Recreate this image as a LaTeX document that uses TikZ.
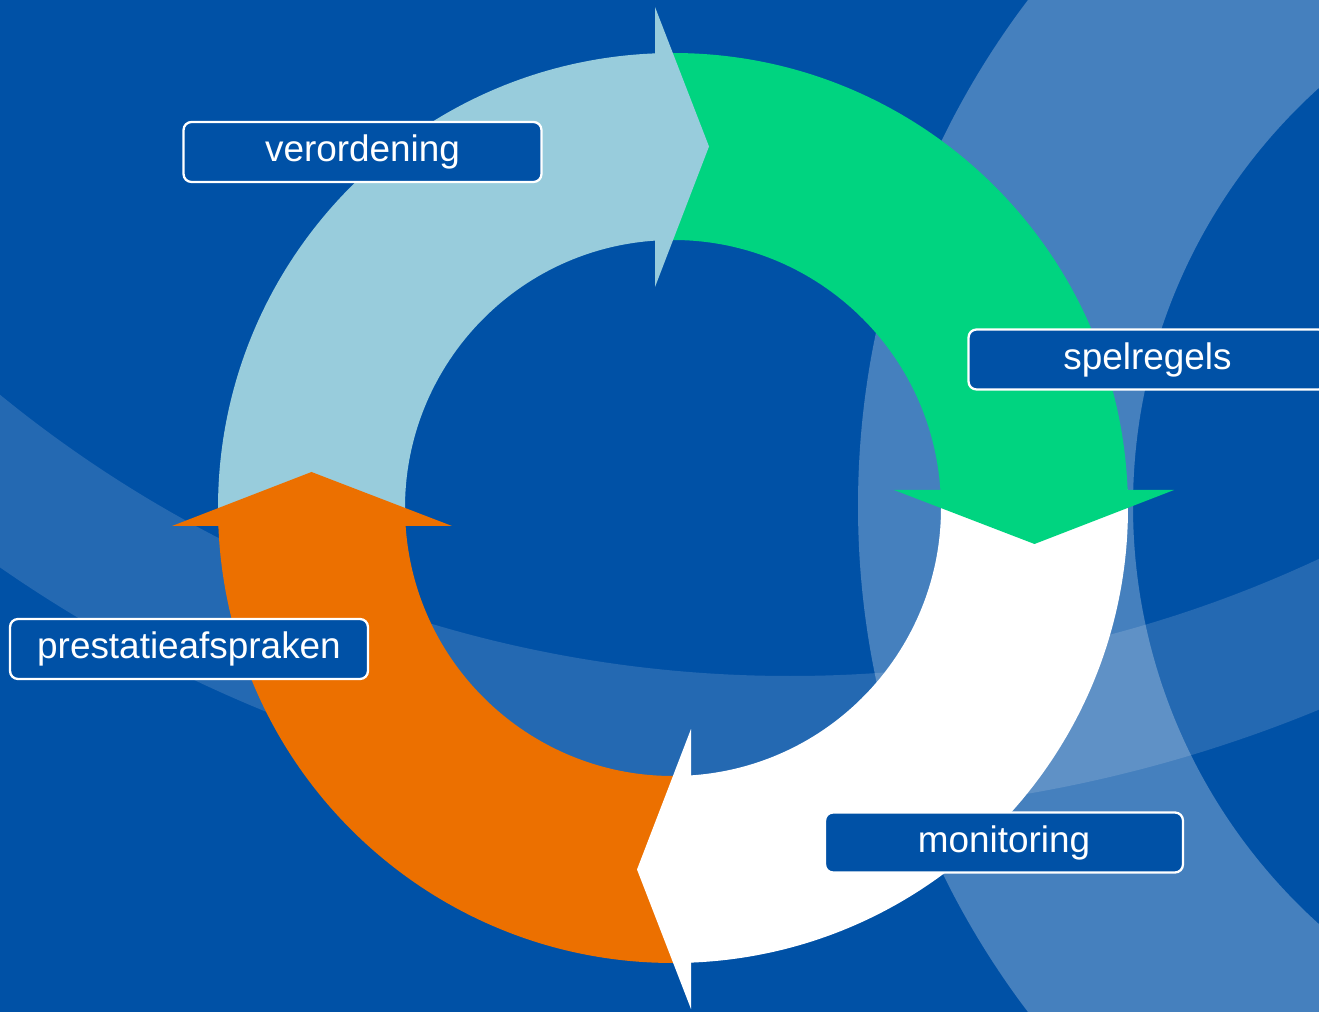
\documentclass[tikz,border=0pt]{standalone}
\usepackage{fontspec}
\setmainfont{Liberation Sans}
\definecolor{bgblue}{HTML}{0051A6}
\definecolor{paleblue}{HTML}{98CCDC}
\definecolor{mint}{HTML}{00D480}
\definecolor{tangerine}{HTML}{EC7000}
\tikzstyle{stagebox} = [rectangle, rounded corners=0.16cm, draw=white, line width=1.3pt, fill=bgblue, text=white, minimum width=7.16cm, minimum height=1.2cm, text height=15.5pt, text depth=4.4pt, font=\fontsize{21}{25}\selectfont]
\tikzstyle{swoosh} = [white, even odd rule]

\begin{document}
\begin{tikzpicture}[x=0.02cm, y=0.02cm]
  \useasboundingbox (0,0) rectangle (1319,1012);
  \clip (0,0) rectangle (1319,1012);
  \fill[bgblue] (0,0) rectangle (1319,1012);

  % background swooshes
  \fill[swoosh, fill opacity=0.14] (790,1586) circle[radius=1388] (790,1586) circle[radius=1250];
  \fill[swoosh, fill opacity=0.27] (1696,506) circle[radius=838] (1696,506) circle[radius=563];

  % the cycle
  \begin{scope}[shift={(673,504)}]
    \foreach \col [count=\k from 0] in {paleblue, mint, white, tangerine}
      \fill[\col, rotate=-90*\k] (182.27:455) arc[start angle=182.27, end angle=92.27, radius=455]
        -- (93.85:268) arc[start angle=93.85, end angle=183.85, radius=268] -- cycle;
    \foreach \col [count=\k from 0] in {paleblue, mint, white, tangerine}
      \fill[\col, rotate=-90*\k] (-18,501) -- (36,361.5) -- (-18,221) -- cycle
        (-21,267.8) rectangle (-17,454.2);
  \end{scope}

  \node[stagebox] (verordening) at (362.5,860) {verordening};
  \node[stagebox] (spelregels) at (1147.5,652.5) {spelregels};
  \node[stagebox] (prestatie) at (189,363) {prestatieafspraken};
  \node[stagebox] (monitoring) at (1004,169.5) {monitoring};
\end{tikzpicture}
\end{document}
